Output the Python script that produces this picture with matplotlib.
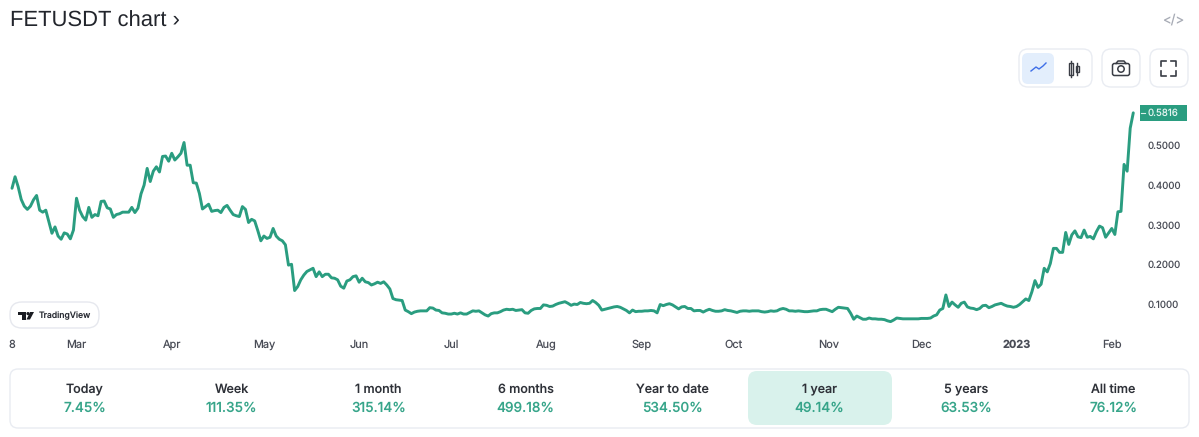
import datetime as dt
import matplotlib
matplotlib.use("Agg")
import matplotlib.pyplot as plt
import matplotlib.dates as mdates
from matplotlib.patches import FancyBboxPatch, Rectangle, Polygon, Circle

plt.rcParams['font.family'] = ['Inter', 'DejaVu Sans']
plt.rcParams['text.hinting'] = 'no_hinting'
plt.rcParams['text.hinting_factor'] = 1

start_date = dt.date(2022, 2, 8)
prices = [
 .392,.421,.396,.364,.347,.339,.347,.363,.374,.337,.332,.337,.308,.279,.295,.272,.264,.280,.277,.265,
 .287,.367,.337,.321,.312,.344,.319,.326,.323,.359,.360,.343,.340,.319,.326,.328,.332,.332,.332,.344,
 .331,.342,.378,.400,.442,.409,.435,.446,.433,.472,.473,.460,.480,.463,.471,.480,.507,.450,.450,.406,
 .405,.379,.340,.346,.352,.334,.336,.337,.331,.344,.349,.337,.326,.323,.321,.346,.339,.306,.314,.310,
 .286,.260,.272,.266,.269,.291,.272,.264,.260,.250,.199,.201,.135,.145,.162,.174,.183,.187,.191,.170,
 .182,.170,.176,.176,.167,.166,.162,.146,.141,.159,.162,.170,.172,.156,.166,.157,.155,.149,.152,.156,
 .153,.157,.149,.139,.115,.112,.111,.110,.086,.082,.077,.081,.083,.084,.084,.084,.092,.091,.086,.085,
 .079,.078,.076,.076,.078,.076,.079,.076,.076,.080,.084,.083,.084,.079,.074,.071,.077,.079,.079,.082,
 .086,.088,.087,.088,.085,.086,.087,.079,.078,.085,.089,.090,.090,.099,.098,.095,.096,.100,.103,
 .105,.107,.103,.098,.101,.100,.105,.103,.102,.103,.110,.105,.098,.086,.088,.090,.092,.094,.095,.093,
 .089,.085,.079,.086,.082,.083,.083,.084,.084,.085,.084,.079,.100,.097,.100,.102,.099,.094,.089,.094,
 .095,.090,.090,.084,.085,.085,.081,.085,.088,.085,.083,.083,.084,.087,.085,.084,.082,.080,.083,.084,
 .084,.083,.084,.084,.084,.082,.081,.082,.084,.083,.084,.088,.090,.088,.084,.084,.083,.084,.083,.082,
 .082,.083,.084,.084,.087,.088,.088,.085,.082,.088,.093,.092,.091,.090,.078,.063,.071,.067,.063,.063,
 .066,.064,.064,.063,.063,.062,.059,.057,.061,.066,.065,.064,.064,.064,.064,.064,.064,.065,.065,.065,
 .066,.071,.074,.086,.090,.124,.095,.106,.099,.093,.103,.106,.094,.091,.090,.087,.090,.097,.098,.092,
 .095,.099,.101,.103,.099,.096,.095,.093,.095,.100,.107,.114,.110,.132,.160,.143,.151,.191,.182,.203,
 .241,.241,.231,.231,.281,.251,.275,.285,.270,.268,.287,.269,.271,.265,.283,.297,.293,.269,.280,.291,
 .276,.333,.334,.452,.435,.543,.5816,
]
dates = [start_date + dt.timedelta(days=i) for i in range(len(prices))]

y_ticks = [0.1, 0.2, 0.3, 0.4, 0.5]
x_tick_dates = [dt.date(2022, 2, 8)] + [dt.date(2022, m, 1) for m in range(3, 13)] + [dt.date(2023, 1, 1), dt.date(2023, 2, 1)]
x_tick_labels = ["8", "Mar", "Apr", "May", "Jun", "Jul", "Aug", "Sep", "Oct", "Nov", "Dec", "2023", "Feb"]
periods = ["Today", "Week", "1 month", "6 months", "Year to date", "1 year", "5 years", "All time"]
changes = ["7.45%", "111.35%", "315.14%", "499.18%", "534.50%", "49.14%", "63.53%", "76.12%"]

W, H = 1199, 437
GREEN = "#2a9d80"
TXT = "#2e3138"
AXT = "#4a4d57"
BORDER = "#e9ecf2"

fig = plt.figure(figsize=(W / 100, H / 100), dpi=100, facecolor="white")

ov = fig.add_axes([0, 0, 1, 1], zorder=0)
ov.set_xlim(0, W); ov.set_ylim(H, 0); ov.axis("off")

def rbox(x0, y0, x1, y1, r, fc="white", ec=BORDER, lw=1.0, z=1):
    ov.add_patch(FancyBboxPatch((x0 + r, y0 + r), x1 - x0 - 2 * r, y1 - y0 - 2 * r,
                                boxstyle=f"round,pad={r},rounding_size={r}",
                                fc=fc, ec=ec, lw=lw, zorder=z))

ov.text(10, 21.5, "FETUSDT chart ›", fontsize=16.2, color="#22252c", va="center", ha="left",
        family=["Liberation Sans", "DejaVu Sans"])
ov.text(1173, 19.5, "</>", fontsize=9.5, color="#a8acb6", va="center", ha="center")

rbox(1019, 49, 1092, 87, 9)
rbox(1022, 53, 1054, 84, 6, fc="#e3eefc", ec="none")
ov.plot([1031, 1036, 1039, 1043, 1046], [71, 67, 69, 66, 63], color="#3f6fe8", lw=1.0, zorder=3)
ov.add_patch(Rectangle((1068.5, 63), 4, 12, fc="none", ec="#3a3d45", lw=1.0, zorder=3))
ov.plot([1070.5, 1070.5], [61, 77], color="#3a3d45", lw=1.0, zorder=3)
ov.add_patch(Rectangle((1075.5, 65.5), 3, 6, fc="none", ec="#3a3d45", lw=1.0, zorder=3))
ov.plot([1077, 1077], [63, 75], color="#3a3d45", lw=1.0, zorder=3)
rbox(1102, 49, 1140, 87, 9)
rbox(1112.5, 63.5, 1129.5, 75.5, 2, fc="white", ec="#3a3d45", lw=1.1, z=3)
ov.plot([1116, 1118, 1124, 1126], [63.5, 61, 61, 63.5], color="#3a3d45", lw=1.1, zorder=3)
ov.add_patch(Circle((1121, 69), 3.2, fc="none", ec="#3a3d45", lw=1.1, zorder=4))
rbox(1150, 49, 1188, 87, 9)
for xs, ys in [([1161, 1161, 1166], [66, 61, 61]), ([1171, 1176, 1176], [61, 61, 66]),
               ([1161, 1161, 1166], [71, 76, 76]), ([1171, 1176, 1176], [76, 76, 71])]:
    ov.plot(xs, ys, color="#3a3d45", lw=1.2, zorder=3)

rbox(10, 302, 99, 328, 12, ec="#e6e8ee")
ov.add_patch(Polygon([(18, 312), (26, 312), (26, 319.5), (22, 319.5), (22, 315), (18, 315)], fc="#1a1c22", ec="none", zorder=3))
ov.add_patch(Circle((28, 313.6), 1.6, fc="#1a1c22", ec="none", zorder=3))
ov.add_patch(Polygon([(30, 312), (34, 312), (30, 319.5), (26.5, 319.5)], fc="#1a1c22", ec="none", zorder=3))
ov.text(39, 315.5, "TradingView", fontsize=6.2, fontweight="medium", color="#2a2d35", va="center", ha="left", zorder=3)

rbox(10, 369, 1189, 428, 8)
rbox(748, 371, 892, 425, 9, fc="#d9f2ec", ec="none", z=2)
cell_w = (1187 - 11) / len(periods)
for i, (p, c) in enumerate(zip(periods, changes)):
    cx = 11 + cell_w * (i + 0.5)
    ov.text(cx, 389, p, fontsize=9.0, fontweight="medium", color=TXT, ha="center", va="center", zorder=3)
    ov.text(cx, 408, c, fontsize=9.8, fontweight="medium", color="#37a58a", ha="center", va="center", zorder=3)

last = prices[-1]
ov.add_patch(Rectangle((1140, 105), 47, 15.5, fc=GREEN, ec="none", zorder=3))
ov.plot([1141, 1145], [112.8, 112.8], color="#d8efe9", lw=0.8, zorder=4)
ov.text(1148, 113, f"{last:.4f}", fontsize=7.0, color="#e4f4f0", va="center", ha="left", zorder=4)

px0, px1, py0, py1 = 0, 1140, 95, 335
ax = fig.add_axes([px0 / W, 1 - py1 / H, (px1 - px0) / W, (py1 - py0) / H], zorder=1)
ax.patch.set_alpha(0)
d0 = mdates.date2num(start_date)
ax.set_xlim(d0 + (px0 - 12) / 3.072, d0 + (px1 - 12) / 3.072)
ax.set_ylim(0.1 + (304.5 - py1) / 398, 0.1 + (304.5 - py0) / 398)
ax.plot(dates, prices, color=GREEN, lw=2.1, solid_joinstyle="round", solid_capstyle="round", clip_on=False)
for s in ax.spines.values():
    s.set_visible(False)
ax.yaxis.tick_right()
ax.set_yticks(y_ticks)
ax.set_yticklabels([f"{v:.4f}" for v in y_ticks], fontsize=7.0, color=AXT)
ax.set_xticks([mdates.date2num(d) for d in x_tick_dates])
ax.set_xticklabels(x_tick_labels, fontsize=7.9, color=AXT)
ax.tick_params(axis="y", length=0, pad=5.8)
ax.tick_params(axis="x", length=0, pad=3.2)
for lab in ax.get_xticklabels():
    if lab.get_text() == "2023":
        lab.set_fontweight("bold")

fig.savefig("out.png", dpi=100, facecolor="white")
